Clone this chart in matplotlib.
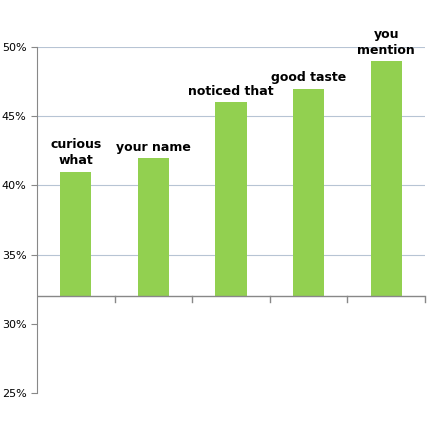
import matplotlib
matplotlib.use("Agg")
import matplotlib.pyplot as plt

categories = ["curious\nwhat", "your name", "noticed that", "good taste", "you\nmention"]
values = [41, 42, 46, 47, 49]
yticks = [25, 30, 35, 40, 45, 50]
base = 32

fig = plt.figure(figsize=(4.32, 4.29), dpi=100)
ax = fig.add_axes([37/432, 1-393/429, 388/432, (393-47)/429])
x = list(range(len(categories)))
ax.set_xlim(-0.5, len(categories)-0.5)
ax.set_ylim(25, 50)
for t in yticks:
    if t > base:
        ax.axhline(t, color="#b7c4d4", lw=0.8, zorder=0)
ax.bar(x, [v-base for v in values], bottom=base, width=0.4, color="#92d050", zorder=2)
for xi, v, c in zip(x, values, categories):
    ax.text(xi, v+0.3, c, ha="center", va="bottom", fontsize=9, fontweight="bold", linespacing=1.3)
ax.axhline(base, color="#888888", lw=1, zorder=3)
for b in [i+0.5 for i in range(len(categories)-1)] + [len(categories)-0.5]:
    ax.plot([b, b], [base, base-0.4], color="#888888", lw=1, zorder=3, clip_on=False)
for s in ["top", "right", "bottom"]:
    ax.spines[s].set_visible(False)
ax.spines["left"].set_color("#888888")
ax.set_xticks([])
ax.set_yticks(yticks)
ax.set_yticklabels([f"{t}%" for t in yticks], fontsize=8)
ax.tick_params(axis="y", length=4, color="#888888")
fig.savefig("out.png", dpi=100)
